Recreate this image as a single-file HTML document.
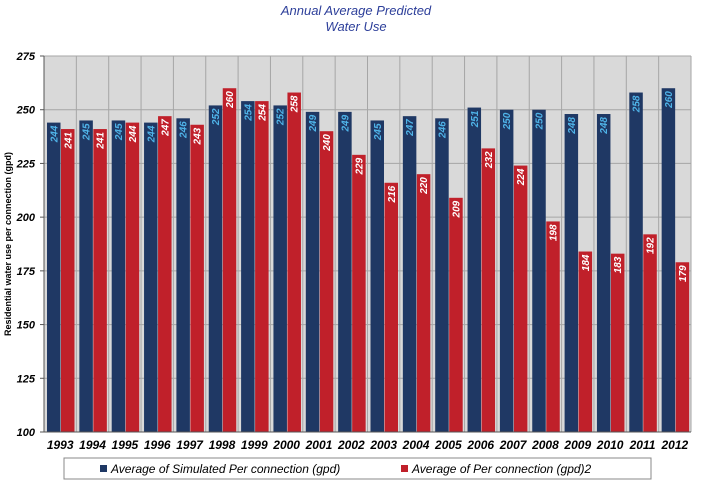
<!DOCTYPE html>
<html><head><meta charset="utf-8"><style>
body{margin:0;background:#fff;width:711px;height:483px;overflow:hidden;font-family:"Liberation Sans",sans-serif}
</style></head><body>
<svg width="711" height="483" id="svg">
<text x="356" y="15" text-anchor="middle" font-size="13" font-style="italic" fill="#2d3f9a">Annual Average Predicted</text>
<text x="356" y="31" text-anchor="middle" font-size="13" font-style="italic" fill="#2d3f9a">Water Use</text>
<rect x="44" y="56" width="647" height="376" fill="#d9d9d9"/>
<g id="grid"></g><g id="bars"></g><g id="axes"></g>
<text transform="translate(11,244) rotate(-90)" text-anchor="middle" font-size="9" font-weight="bold">Residential water use per connection (gpd)</text>
<rect x="64" y="458" width="587" height="21" fill="#fff" stroke="#888"/>
<g><rect x="100" y="465" width="7" height="7" fill="#1f3864"/>
<text x="111" y="473" font-size="12" font-style="italic">Average of Simulated Per connection (gpd)</text></g>
<g><rect x="401" y="465" width="7" height="7" fill="#c0202a"/>
<text x="412" y="473" font-size="12" font-style="italic">Average of Per connection (gpd)2</text></g>
</svg>
<script>
const years=["1993","1994","1995","1996","1997","1998","1999","2000","2001","2002","2003","2004","2005","2006","2007","2008","2009","2010","2011","2012"];
const simulated=[244,245,245,244,246,252,254,252,249,249,245,247,246,251,250,250,248,248,258,260];
const actual=[241,241,244,247,243,260,254,258,240,229,216,220,209,232,224,198,184,183,192,179];
const yTicks=[100,125,150,175,200,225,250,275];
const NS="http://www.w3.org/2000/svg";
const L=44,R=691,T=56,B=432,ymin=100,ymax=275;
const y=v=>B-(v-ymin)/(ymax-ymin)*(B-T);
const cw=(R-L)/years.length;
const x=i=>L+i*cw;
function mk(tag,attrs,parent,txt){const e=document.createElementNS(NS,tag);for(const k in attrs)e.setAttribute(k,attrs[k]);if(txt!=null)e.textContent=txt;document.getElementById(parent).appendChild(e);return e;}
yTicks.forEach(t=>{
 const g=mk('line',{x1:L,x2:R,y1:y(t),y2:y(t),stroke:'#a6a6a6','stroke-width':1},'grid');
 
 
 const tk=mk('line',{x1:L-4,x2:L,y1:y(t),y2:y(t),stroke:'#555'},'axes');
 
 
 const lb=mk('text',{x:L-9,y:y(t)+4,'text-anchor':'end','font-size':11,'font-weight':'bold','font-style':'italic'},'axes',t);
 
 
});
for(let i=0;i<=years.length;i++){
 const g=mk('line',{x1:x(i),x2:x(i),y1:T,y2:B,stroke:'#a6a6a6'},'grid');
 
 
}
const ax=mk('line',{x1:L,x2:L,y1:T,y2:B,stroke:'#555'},'axes');


const bx=mk('line',{x1:L,x2:R,y1:B,y2:B,stroke:'#555'},'axes');


years.forEach((yr,i)=>{
 const lb=mk('text',{x:x(i)+cw/2,y:B+17,'text-anchor':'middle','font-size':12,'font-weight':'bold','font-style':'italic'},'axes',yr);
 
 
 const bw=13.5,bx1=x(i)+3;
 const b1=mk('rect',{x:bx1,y:y(simulated[i]),width:bw,height:B-y(simulated[i]),fill:'#1f3864'},'bars');
 
 
 const t1=mk('text',{transform:`translate(${bx1+bw/2+3.5},${y(simulated[i])+3}) rotate(-90)`,'text-anchor':'end','font-size':10,'font-weight':'bold','font-style':'italic',fill:'#4fb3e8'},'bars',simulated[i]);
 
 
 const bx2=bx1+bw+0.5;
 const b2=mk('rect',{x:bx2,y:y(actual[i]),width:bw,height:B-y(actual[i]),fill:'#c0202a'},'bars');
 
 
 const t2=mk('text',{transform:`translate(${bx2+bw/2+3.5},${y(actual[i])+3}) rotate(-90)`,'text-anchor':'end','font-size':10,'font-weight':'bold','font-style':'italic',fill:'#fff'},'bars',actual[i]);
 
 
});
</script>
</body></html>
